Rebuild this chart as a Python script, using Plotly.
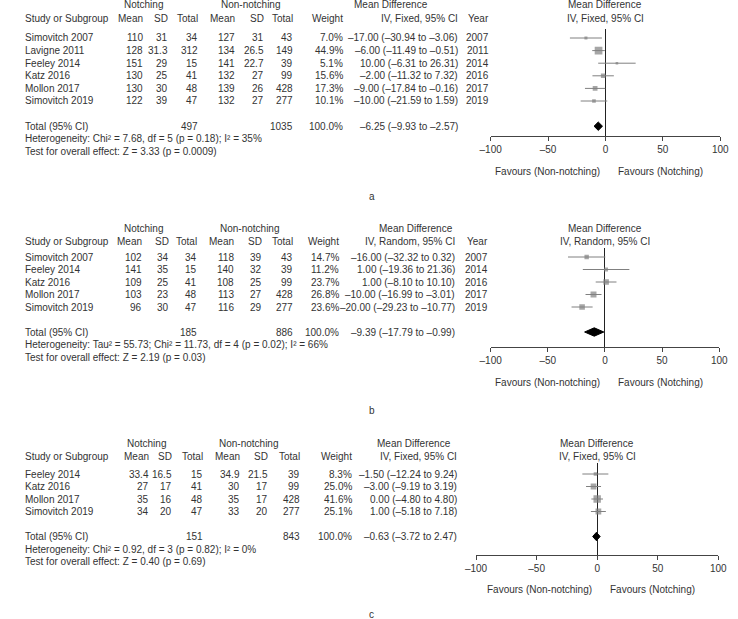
import math
import plotly.graph_objects as go

W, H = 738, 619
FONT = "Liberation Sans, Arial, sans-serif"
TXT = "#333333"
GREY = "#808080"
FS = 10

# ---------------- Data ----------------
# Panel a (IV, Fixed)
A_studies = ["Simovitch 2007", "Lavigne 2011", "Feeley 2014", "Katz 2016", "Mollon 2017", "Simovitch 2019"]
A_n_mean = [110, 128, 151, 130, 130, 122]
A_n_sd = [31, 31.3, 29, 25, 30, 39]
A_n_total = [34, 312, 15, 41, 48, 47]
A_c_mean = [127, 134, 141, 132, 139, 132]
A_c_sd = [31, 26.5, 22.7, 27, 26, 27]
A_c_total = [43, 149, 39, 99, 428, 277]
A_weight = [7.0, 44.9, 5.1, 15.6, 17.3, 10.1]
A_md = [-17.00, -6.00, 10.00, -2.00, -9.00, -10.00]
A_lo = [-30.94, -11.49, -6.31, -11.32, -17.84, -21.59]
A_hi = [-3.06, -0.51, 26.31, 7.32, -0.16, 1.59]
A_year = [2007, 2011, 2014, 2016, 2017, 2019]
A_total_n = [497, 1035]
A_total_md = [-6.25, -9.93, -2.57]
A_het = "Heterogeneity: Chi² = 7.68, df = 5 (p = 0.18); I² = 35%"
A_test = "Test for overall effect: Z = 3.33 (p = 0.0009)"

# Panel b (IV, Random)
B_studies = ["Simovitch 2007", "Feeley 2014", "Katz 2016", "Mollon 2017", "Simovitch 2019"]
B_n_mean = [102, 141, 109, 103, 96]
B_n_sd = [34, 35, 25, 23, 30]
B_n_total = [34, 15, 41, 48, 47]
B_c_mean = [118, 140, 108, 113, 116]
B_c_sd = [39, 32, 25, 27, 29]
B_c_total = [43, 39, 99, 428, 277]
B_weight = [14.7, 11.2, 23.7, 26.8, 23.6]
B_md = [-16.00, 1.00, 1.00, -10.00, -20.00]
B_lo = [-32.32, -19.36, -8.10, -16.99, -29.23]
B_hi = [0.32, 21.36, 10.10, -3.01, -10.77]
B_year = [2007, 2014, 2016, 2017, 2019]
B_total_n = [185, 886]
B_total_md = [-9.39, -17.79, -0.99]
B_het = "Heterogeneity: Tau² = 55.73; Chi² = 11.73, df = 4 (p = 0.02); I² = 66%"
B_test = "Test for overall effect: Z = 2.19 (p = 0.03)"

# Panel c (IV, Fixed)
C_studies = ["Feeley 2014", "Katz 2016", "Mollon 2017", "Simovitch 2019"]
C_n_mean = [33.4, 27, 35, 34]
C_n_sd = [16.5, 17, 16, 20]
C_n_total = [15, 41, 48, 47]
C_c_mean = [34.9, 30, 35, 33]
C_c_sd = [21.5, 17, 17, 20]
C_c_total = [39, 99, 428, 277]
C_weight = [8.3, 25.0, 41.6, 25.1]
C_md = [-1.50, -3.00, 0.00, 1.00]
C_lo = [-12.24, -9.19, -4.80, -5.18]
C_hi = [9.24, 3.19, 4.80, 7.18]
C_year = None
C_total_n = [151, 843]
C_total_md = [-0.63, -3.72, 2.47]
C_het = "Heterogeneity: Chi² = 0.92, df = 3 (p = 0.82); I² = 0%"
C_test = "Test for overall effect: Z = 0.40 (p = 0.69)"

TICKS = [-100, -50, 0, 50, 100]
TICK_LABELS = ["–100", "–50", "0", "50", "100"]


def dash(s):
    return s.replace("-", "–")


def fnum(v):
    return dash(f"{v:g}")


def fmd(v):
    return dash(f"{v:.2f}")


def fci(m, lo, hi):
    return f"{fmd(m)} ({fmd(lo)} to {fmd(hi)})"


fig = go.Figure()
annotations = []


def px(x):
    return x / W


def py(y):
    return 1 - y / H


def add_text(text, x, y, anchor="right", yref="paper", xref="paper"):
    annotations.append(dict(
        text=text, x=x, y=y, xref=xref, yref=yref, xanchor=anchor, yanchor="middle",
        showarrow=False, font=dict(family=FONT, size=FS, color=TXT),
    ))


panels = [
    dict(key="", studies=A_studies, nm=A_n_mean, nsd=A_n_sd, nt=A_n_total, cm=A_c_mean,
         csd=A_c_sd, ct=A_c_total, w=A_weight, md=A_md, lo=A_lo, hi=A_hi, yr=A_year,
         tot=A_total_n, tmd=A_total_md, het=A_het, test=A_test, method="IV, Fixed, 95% CI",
         label="a", h1=5, h2=18, row0=38, dy=12.6, top=29, axis=136, xl=493, xr=729,
         fav=171, lab=197,
         cols=dict(nm=138, nsd=163, nt=194, cm=232, csd=262, ct=292, w=343, ci=462, yr=493),
         notch=136, nonnotch=246, mdh=391),
    dict(key="2", studies=B_studies, nm=B_n_mean, nsd=B_n_sd, nt=B_n_total, cm=B_c_mean,
         csd=B_c_sd, ct=B_c_total, w=B_weight, md=B_md, lo=B_lo, hi=B_hi, yr=B_year,
         tot=B_total_n, tmd=B_total_md, het=B_het, test=B_test, method="IV, Random, 95% CI",
         label="b", h1=228, h2=241, row0=257, dy=12.5, top=248, axis=347, xl=493, xr=728,
         fav=382, lab=410,
         cols=dict(nm=137, nsd=164, nt=193, cm=231, csd=260, ct=292, w=339, ci=458, yr=492),
         notch=136, nonnotch=245, mdh=416),
    dict(key="3", studies=C_studies, nm=C_n_mean, nsd=C_n_sd, nt=C_n_total, cm=C_c_mean,
         csd=C_c_sd, ct=C_c_total, w=C_weight, md=C_md, lo=C_lo, hi=C_hi, yr=C_year,
         tot=C_total_n, tmd=C_total_md, het=C_het, test=C_test, method="IV, Fixed, 95% CI",
         label="c", h1=443, h2=456, row0=474, dy=12.5, top=463, axis=555, xl=478, xr=727,
         fav=589, lab=614,
         cols=dict(nm=144, nsd=168, nt=199, cm=237, csd=266, ct=299, w=353, ci=460, yr=None),
         notch=139, nonnotch=244, mdh=414),
]

layout_axes = {}
for p in panels:
    k = p["key"]
    xa, ya = "x" + k, "y" + k
    n = len(p["studies"])
    tot_i = n + 1
    i_bot = (p["axis"] - p["row0"]) / p["dy"]
    i_top = (p["top"] - p["row0"]) / p["dy"]
    rows = list(range(n))

    # CI lines
    lx, ly = [], []
    for i in rows:
        lx += [p["lo"][i], p["hi"][i], None]
        ly += [i, i, None]
    fig.add_trace(go.Scatter(x=lx, y=ly, xaxis=xa, yaxis=ya, mode="lines",
                             line=dict(color=GREY, width=1), hoverinfo="skip", showlegend=False))
    # squares sized by weight
    fig.add_trace(go.Scatter(x=p["md"], y=rows, xaxis=xa, yaxis=ya, mode="markers",
                             marker=dict(symbol="square", color=GREY,
                                         size=[1.15 * math.sqrt(w) for w in p["w"]],
                                         line=dict(width=0)),
                             showlegend=False))
    # pooled diamond
    m, lo, hi = p["tmd"]
    hh = 4.2 / p["dy"]
    fig.add_trace(go.Scatter(x=[lo, m, hi, m, lo], y=[tot_i, tot_i - hh, tot_i, tot_i + hh, tot_i],
                             xaxis=xa, yaxis=ya, mode="lines", fill="toself",
                             fillcolor="black", line=dict(color="black", width=1),
                             showlegend=False))

    layout_axes["xaxis" + k] = dict(
        domain=[px(p["xl"]), px(p["xr"])], range=[-100, 100], anchor=ya,
        tickvals=TICKS, ticktext=TICK_LABELS, ticks="outside", ticklen=4,
        tickcolor="#444", showline=True, linecolor="#444", linewidth=1,
        showgrid=False, zeroline=True, zerolinecolor="#222", zerolinewidth=1,
        tickfont=dict(family=FONT, size=FS, color=TXT), fixedrange=True,
    )
    layout_axes["yaxis" + k] = dict(
        domain=[py(p["axis"]), py(p["top"])], range=[i_bot, i_top], anchor=xa,
        visible=False, showgrid=False, zeroline=False, fixedrange=True,
    )

    c = p["cols"]
    # headers
    add_text("Notching", px(p["notch"]), py(p["h1"]), "center")
    add_text("Non-notching", px(p["nonnotch"]), py(p["h1"]), "center")
    add_text("Mean Difference", px(p["mdh"]), py(p["h1"]), "center")
    add_text("Study or Subgroup", px(12), py(p["h2"]), "left")
    for col, name in [("nm", "Mean"), ("nsd", "SD"), ("nt", "Total"), ("cm", "Mean"),
                      ("csd", "SD"), ("ct", "Total"), ("w", "Weight"), ("ci", p["method"])]:
        add_text(name, px(c[col]), py(p["h2"]), "right")
    if c["yr"]:
        add_text("Year", px(c["yr"]), py(p["h2"]), "right")
    # plot headers centred on zero
    add_text("Mean Difference", 0, py(p["h1"]), "center", xref=xa)
    add_text(p["method"], 0, py(p["h2"]), "center", xref=xa)

    # study rows
    for i in rows:
        add_text(p["studies"][i], px(12), i, "left", yref=ya)
        add_text(fnum(p["nm"][i]), px(c["nm"]), i, yref=ya)
        add_text(fnum(p["nsd"][i]), px(c["nsd"]), i, yref=ya)
        add_text(fnum(p["nt"][i]), px(c["nt"]), i, yref=ya)
        add_text(fnum(p["cm"][i]), px(c["cm"]), i, yref=ya)
        add_text(fnum(p["csd"][i]), px(c["csd"]), i, yref=ya)
        add_text(fnum(p["ct"][i]), px(c["ct"]), i, yref=ya)
        add_text(f"{p['w'][i]:.1f}%", px(c["w"]), i, yref=ya)
        add_text(fci(p["md"][i], p["lo"][i], p["hi"][i]), px(c["ci"]), i, yref=ya)
        if c["yr"]:
            add_text(str(p["yr"][i]), px(c["yr"]), i, yref=ya)
    # total row
    add_text("Total (95% CI)", px(12), tot_i, "left", yref=ya)
    add_text(str(p["tot"][0]), px(c["nt"]), tot_i, yref=ya)
    add_text(str(p["tot"][1]), px(c["ct"]), tot_i, yref=ya)
    add_text("100.0%", px(c["w"]), tot_i, yref=ya)
    add_text(fci(*p["tmd"]), px(c["ci"]), tot_i, yref=ya)
    # footers
    het_y = p["row0"] + (tot_i + 1) * p["dy"]
    add_text(p["het"], px(12), py(het_y), "left")
    add_text(p["test"], px(12), py(het_y + p["dy"]), "left")
    # favours labels
    annotations.append(dict(text="Favours (Non-notching)", x=0, y=py(p["fav"]), xref=xa, yref="paper",
                            xanchor="right", yanchor="middle", xshift=-3, showarrow=False,
                            font=dict(family=FONT, size=FS, color=TXT)))
    annotations.append(dict(text="Favours (Notching)", x=0, y=py(p["fav"]), xref=xa, yref="paper",
                            xanchor="left", yanchor="middle", xshift=11, showarrow=False,
                            font=dict(family=FONT, size=FS, color=TXT)))
    # panel letter
    add_text(p["label"], px(371), py(p["lab"]), "center")

fig.update_layout(
    width=W, height=H, margin=dict(l=0, r=0, t=0, b=0),
    paper_bgcolor="white", plot_bgcolor="white",
    annotations=annotations, showlegend=False,
    font=dict(family=FONT, size=FS, color=TXT),
    **layout_axes,
)

fig.write_html("out.html", config={"displayModeBar": False},
               post_script="document.body.style.margin='0';")
